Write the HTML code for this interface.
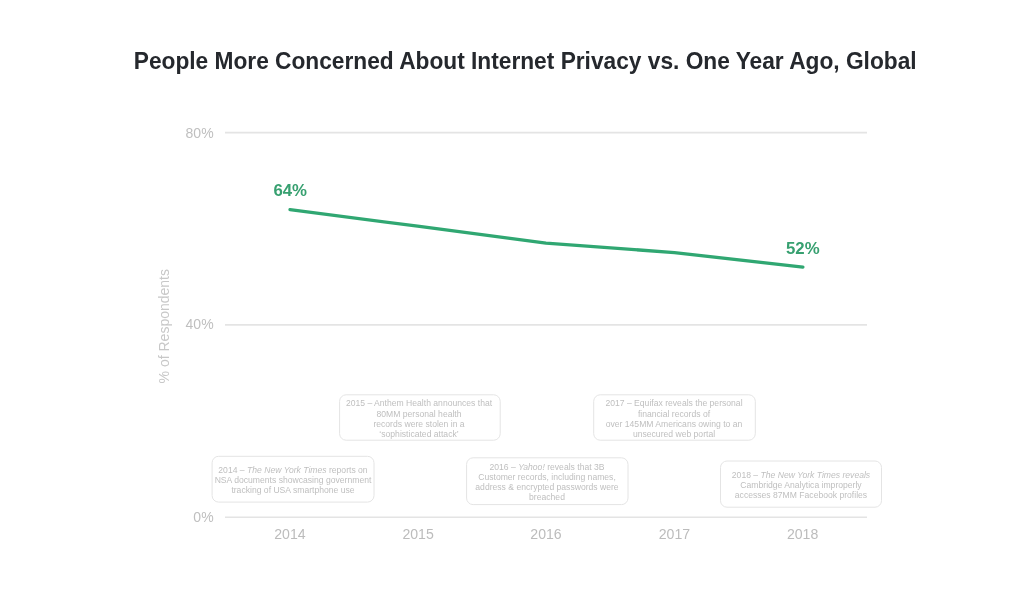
<!DOCTYPE html>
<html>
<head>
<meta charset="utf-8">
<style>
html,body{margin:0;padding:0;background:#fff;}
body{width:1024px;height:615px;overflow:hidden;position:relative;font-family:"Liberation Sans",sans-serif;}
svg{position:absolute;left:0;top:0;will-change:transform;}
</style>
</head>
<body>
<svg width="1024" height="615" viewBox="0 0 1024 615" font-family="Liberation Sans, sans-serif">
<g fill="#25282d" font-weight="bold"><text transform="translate(525.15 69.1) scale(1 1.02)" font-size="22.73" text-anchor="middle">People More Concerned About Internet Privacy vs. One Year Ago, Global</text></g>
<g stroke="#e4e4e4" stroke-width="1.6"><line x1="225" y1="132.6" x2="867" y2="132.6"/><line x1="225" y1="324.9" x2="867" y2="324.9"/><line x1="225" y1="517.3" x2="867" y2="517.3"/></g>
<g fill="#bfbfbf"><text transform="translate(213.6 137.6) scale(1 1.0)" font-size="14.0" text-anchor="end">80%</text><text transform="translate(213.6 329.3) scale(1 1.0)" font-size="14.0" text-anchor="end">40%</text><text transform="translate(213.6 522.1) scale(1 1.0)" font-size="14.0" text-anchor="end">0%</text></g>
<text transform="translate(169.1 326.2) rotate(-90) scale(1.0 1)" text-anchor="middle" font-size="14.0" fill="#c8c8c8">% of Respondents</text>
<g fill="#bcbcbc"><text transform="translate(289.9 539) scale(1 1.0)" font-size="14.1" text-anchor="middle">2014</text><text transform="translate(418.1 539) scale(1 1.0)" font-size="14.1" text-anchor="middle">2015</text><text transform="translate(546.0 539) scale(1 1.0)" font-size="14.1" text-anchor="middle">2016</text><text transform="translate(674.4 539) scale(1 1.0)" font-size="14.1" text-anchor="middle">2017</text><text transform="translate(802.6 539) scale(1 1.0)" font-size="14.1" text-anchor="middle">2018</text></g>
<g fill="none" stroke="#e4e4e4" stroke-width="1"><rect x="212.1" y="456.3" width="161.9" height="45.8" rx="6.5"/><rect x="339.6" y="394.8" width="160.6" height="45.4" rx="6.5"/><rect x="466.6" y="457.8" width="161.4" height="46.8" rx="6.5"/><rect x="593.7" y="394.8" width="161.6" height="45.4" rx="6.5"/><rect x="720.5" y="461.0" width="161.0" height="46.2" rx="6.5"/></g>
<g fill="#bfbfbf"><text transform="translate(293 473.2) scale(1 1.0)" font-size="8.6" text-anchor="middle">2014 – <tspan font-style="italic">The New York Times</tspan> reports on</text><text transform="translate(293 483.4) scale(1 1.0)" font-size="8.6" text-anchor="middle">NSA documents showcasing government</text><text transform="translate(293 493.2) scale(1 1.0)" font-size="8.6" text-anchor="middle">tracking of USA smartphone use</text><text transform="translate(419.0 406.3) scale(1 1.0)" font-size="8.6" text-anchor="middle">2015 – Anthem Health announces that</text><text transform="translate(419.0 416.5) scale(1 1.0)" font-size="8.6" text-anchor="middle">80MM personal health</text><text transform="translate(419.0 426.8) scale(1 1.0)" font-size="8.6" text-anchor="middle">records were stolen in a</text><text transform="translate(419.0 436.7) scale(1 1.0)" font-size="8.6" text-anchor="middle">‘sophisticated attack’</text><text transform="translate(547 469.8) scale(1 1.0)" font-size="8.6" text-anchor="middle">2016 – <tspan font-style="italic">Yahoo!</tspan> reveals that 3B</text><text transform="translate(547 479.9) scale(1 1.0)" font-size="8.6" text-anchor="middle">Customer records, including names,</text><text transform="translate(547 490.0) scale(1 1.0)" font-size="8.6" text-anchor="middle">address &amp; encrypted passwords were</text><text transform="translate(547 500.1) scale(1 1.0)" font-size="8.6" text-anchor="middle">breached</text><text transform="translate(674 406.3) scale(1 1.0)" font-size="8.6" text-anchor="middle">2017 – Equifax reveals the personal</text><text transform="translate(674 416.5) scale(1 1.0)" font-size="8.6" text-anchor="middle">financial records of</text><text transform="translate(674 426.8) scale(1 1.0)" font-size="8.6" text-anchor="middle">over 145MM Americans owing to an</text><text transform="translate(674 436.7) scale(1 1.0)" font-size="8.6" text-anchor="middle">unsecured web portal</text><text transform="translate(801 477.9) scale(1 1.0)" font-size="8.6" text-anchor="middle">2018 – <tspan font-style="italic">The New York Times reveals</tspan></text><text transform="translate(801 488.0) scale(1 1.0)" font-size="8.6" text-anchor="middle">Cambridge Analytica improperly</text><text transform="translate(801 498.1) scale(1 1.0)" font-size="8.6" text-anchor="middle">accesses 87MM Facebook profiles</text></g>
<polyline points="290.0,209.6 417.6,226.2 546,243.1 674.4,252.6 802.9,267.1" fill="none" stroke="#30a772" stroke-width="3.3" stroke-linejoin="round" stroke-linecap="round"/>
<g fill="#37a070" font-weight="bold"><text transform="translate(290.2 196.2) scale(1 1.0)" font-size="16.8" text-anchor="middle">64%</text><text transform="translate(802.8 253.8) scale(1 1.0)" font-size="16.8" text-anchor="middle">52%</text></g>
</svg>
</body>
</html>
